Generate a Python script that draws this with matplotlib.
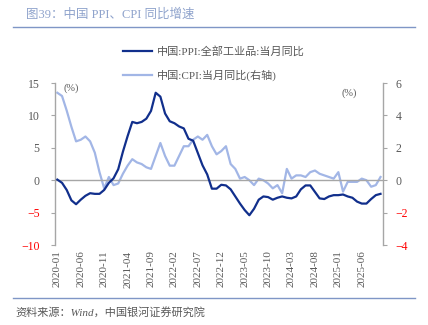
import numpy as np
import matplotlib.pyplot as plt
import matplotlib.lines as mlines

plt.rcParams['font.family'] = ['Liberation Serif', 'Noto Sans CJK SC', 'DejaVu Sans']

# monthly data, 2020-01 .. 2025-10
months = [f"{y}-{m:02d}" for y in range(2020, 2026) for m in range(1, 13)][:70]

ppi = [0.1, -0.4, -1.5, -3.1, -3.7, -3.0, -2.4, -2.0, -2.1, -2.1, -1.5, -0.4,
       0.3, 1.7, 4.4, 6.8, 9.0, 8.8, 9.0, 9.5, 10.7, 13.5, 12.9, 10.3,
       9.1, 8.8, 8.3, 8.0, 6.4, 6.1, 4.2, 2.3, 0.9, -1.3, -1.3, -0.7,
       -0.8, -1.4, -2.5, -3.6, -4.6, -5.4, -4.4, -3.0, -2.5, -2.6, -3.0, -2.7,
       -2.5, -2.7, -2.8, -2.5, -1.4, -0.8, -0.8, -1.8, -2.8, -2.9, -2.5, -2.3,
       -2.3, -2.2, -2.5, -2.7, -3.3, -3.6, -3.6, -2.9, -2.3, -2.1]

cpi = [5.4, 5.2, 4.3, 3.3, 2.4, 2.5, 2.7, 2.4, 1.7, 0.5, -0.5, 0.2,
       -0.3, -0.2, 0.4, 0.9, 1.3, 1.1, 1.0, 0.8, 0.7, 1.5, 2.3, 1.5,
       0.9, 0.9, 1.5, 2.1, 2.1, 2.5, 2.7, 2.5, 2.8, 2.1, 1.6, 1.8,
       2.1, 1.0, 0.7, 0.1, 0.2, 0.0, -0.3, 0.1, 0.0, -0.2, -0.5, -0.3,
       -0.8, 0.7, 0.1, 0.3, 0.3, 0.2, 0.5, 0.6, 0.4, 0.3, 0.2, 0.1,
       0.5, -0.7, -0.1, -0.1, -0.1, 0.1, 0.0, -0.4, -0.3, 0.2]

ppi_label = '中国:PPI:全部工业品:当月同比'
cpi_label = '中国:CPI:当月同比(右轴)'

dark = '#112F8C'
light = '#A2B6E6'
gray = '#595959'
axis_gray = '#A6A6A6'
red = '#FF0000'

x = np.arange(len(months))

fig = plt.figure(figsize=(4.28, 3.25), dpi=100)
ax = fig.add_axes([0.1285, 0.246, 0.766, 0.4985])
ax2 = ax.twinx()

ax.plot(x, ppi, color=dark, lw=1.6, zorder=3)
ax2.plot(x, cpi, color=light, lw=1.6, zorder=2)
ax.set_zorder(ax2.get_zorder() + 1)
ax.patch.set_visible(False)

ax.set_ylim(-10, 15)
ax.set_yticks([-10, -5, 0, 5, 10, 15])
ax2.set_ylim(-4, 6)
ax2.set_yticks([-4, -2, 0, 2, 4, 6])
ax.set_xlim(-0.5, len(months) - 0.5)
ax.axhline(0, color=axis_gray, lw=1.0, zorder=1)

ticks = list(range(0, len(months), 5))
ax.set_xticks(ticks)
ax.set_xticklabels([months[i] for i in ticks], rotation=90, fontsize=8, color=gray)
ax.tick_params(axis='x', length=0, pad=4)

for a in (ax, ax2):
    for s in ('top', 'bottom'):
        a.spines[s].set_visible(False)
    a.spines['left'].set_color(axis_gray)
    a.spines['right'].set_color(axis_gray)
    a.spines['left'].set_linewidth(1.0)
    a.spines['right'].set_linewidth(1.0)
ax.spines['right'].set_visible(False)
ax2.spines['left'].set_visible(False)

ax.tick_params(axis='y', labelsize=8.5, colors=gray, length=3, color=axis_gray, pad=8)
ax2.tick_params(axis='y', labelsize=8.5, colors=gray, length=3, color=axis_gray, pad=6)
for lab, v in zip(ax.get_yticklabels(), ax.get_yticks()):
    lab.set_color(red if v < 0 else gray)
for lab, v in zip(ax2.get_yticklabels(), ax2.get_yticks()):
    lab.set_color(red if v < 0 else gray)

ax.text(0.025, 0.995, '(%)', transform=ax.transAxes, fontsize=7.5, color=gray, va='top', ha='left')
ax2.text(0.922, 0.965, '(%)', transform=ax2.transAxes, fontsize=7.5, color=gray, va='top', ha='right')

h1 = mlines.Line2D([], [], color=dark, lw=1.6)
h2 = mlines.Line2D([], [], color=light, lw=1.6)
fig.legend([h1, h2], [ppi_label, cpi_label], loc='upper left',
           bbox_to_anchor=(0.265, 0.888), frameon=False, fontsize=8,
           handlelength=2.6, labelspacing=1.15, labelcolor=gray, handletextpad=0.4)

fig.text(0.06, 0.955, '图39：中国 PPI、CPI 同比增速', fontsize=9, color='#8FA3CC', va='center')
fig.add_artist(mlines.Line2D([0.03, 0.97], [0.917, 0.917], color='#7F96C6', lw=1.0))
fig.add_artist(mlines.Line2D([0.03, 0.97], [0.083, 0.083], color='#7F96C6', lw=1.0))
fig.text(0.035, 0.04, '资料来源：Wind，中国银河证券研究院', fontsize=8, color=gray,
         style='italic', va='center')

fig.savefig('out.png', dpi=100)
